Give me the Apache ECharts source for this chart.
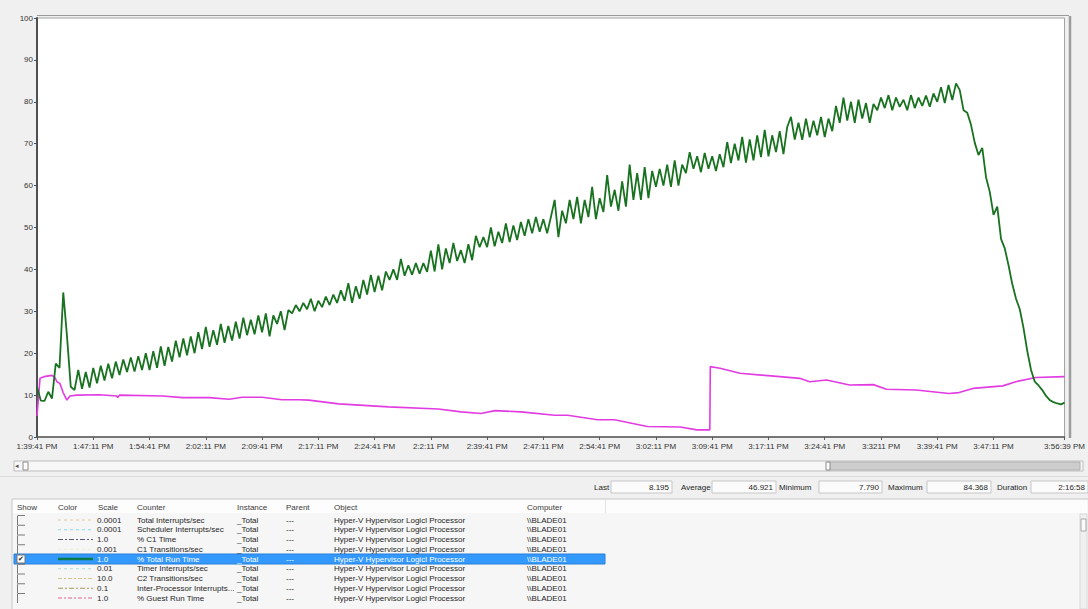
<!DOCTYPE html>
<html>
<head>
<meta charset="utf-8">
<title>Hyper-V Hypervisor Logical Processor - % Total Run Time</title>
<script src="https://cdn.jsdelivr.net/npm/echarts@6/dist/echarts.min.js"></script>
<style>
  html, body { margin: 0; padding: 0; background: #f0f0f0; }
  #chart { width: 1088px; height: 609px; }
</style>
</head>
<body>
<div id="chart"></div>
<script>
// one sample of % Total Run Time every 30 s, run length 2:16:58
const SAMPLE_STEP = 30
const DURATION = 8218

// % Total Run Time (green)
const totalRunTime = [
  12, 8.7, 8.6, 10.8, 9.2, 17.5, 16.5, 34.5, 24, 12,
  11.2, 16, 11.5, 15.5, 11.8, 16.5, 12.8, 17, 13.5, 17.5,
  14, 18, 14.8, 18.5, 15.5, 19, 15.6, 19.3, 16, 20,
  16, 20.5, 16.5, 21.6, 17, 21.5, 18, 23, 19, 23.5,
  19.5, 24, 20, 25, 21, 26.3, 21.5, 25.5, 22, 27,
  22.5, 26.5, 23, 27.5, 23.5, 28.5, 24.3, 28, 24.5, 29,
  25, 29.5, 24, 29, 27, 30, 25.5, 30.3, 29.5, 31.5,
  30, 32, 30.5, 33, 30, 32.5, 31, 33.5, 31.5, 34,
  32, 35, 32.5, 36.7, 32, 36, 33, 37.5, 34, 38.7,
  34.6, 38.5, 35, 39.5, 37.5, 40, 37.5, 42.5, 38.5, 41,
  38.7, 41.5, 39, 41.5, 39.4, 44.5, 39.5, 46, 40, 45,
  41.5, 46.3, 42, 44.6, 41.5, 46, 42.2, 48, 45.3, 47.7,
  45.3, 50, 45.5, 49, 46.3, 51, 46.5, 50.5, 47, 51.3,
  48, 52, 48.6, 52.5, 49, 52, 48.6, 52.5, 56.6, 47.7,
  54, 51, 56.6, 52, 57.3, 51, 56.6, 52.5, 59.7, 52,
  57, 53.7, 62.5, 55, 59, 54, 61, 55, 65, 56.6,
  63, 56.6, 64.4, 57, 63.5, 59.7, 64, 60, 65, 59.7,
  66, 60, 65, 63, 68, 64, 67, 63.2, 67.8, 64,
  67, 63.5, 67.5, 64.4, 70.4, 65.4, 70, 66, 71.6, 65.5,
  71, 66, 72, 66.8, 73.3, 67, 72, 68, 73, 67.5,
  74, 76.4, 71, 75, 70.9, 76, 71.5, 75.5, 72, 76.4,
  71.6, 76, 73, 79, 75, 81, 75.5, 80, 75, 80.5,
  76, 79.7, 75, 79.5, 78, 81, 78.5, 81.6, 78, 81,
  78.8, 80.5, 78, 81.6, 78.5, 81, 79, 81.5, 78.8, 82,
  80, 83.5, 79.7, 84, 80.4, 84.4, 82.8, 78, 77.4, 74.5,
  70.2, 67.3, 69, 62, 58.5, 53, 55, 47.3, 45, 41,
  36.5, 33, 30.5, 26, 20.5, 16, 13.2, 12.3, 11.2, 9.8,
  8.8, 8.3, 8, 7.8, 8.2
]

// % Guest Run Time (magenta): seconds from start, value
const guestRunSeconds = [
  0, 24, 56, 119, 143, 159, 183, 209, 239, 263,
  319, 502, 637, 645, 661, 1003, 1163, 1378, 1537, 1640,
  1800, 1959, 2094, 2174, 2413, 2811, 3209, 3392, 3552, 3663,
  3870, 4141, 4244, 4483, 4619, 4881, 5144, 5279, 5381, 5385,
  5463, 5622, 5941, 6100, 6179, 6315, 6498, 6689, 6793, 7031,
  7294, 7374, 7485, 7724, 7828, 7987, 8218
]
const guestRunTime = [
  5, 14, 14.4, 14.7, 14.2, 13.2, 12.8, 10.6, 8.8, 9.8,
  10, 10.1, 9.8, 9.4, 10, 9.8, 9.4, 9.4, 9, 9.5,
  9.5, 8.9, 8.9, 8.8, 7.9, 7.2, 6.7, 6.0, 5.6, 6.3,
  6, 5.2, 5.2, 4.1, 4.1, 2.5, 2.4, 1.7, 1.7, 16.8,
  16.4, 15.2, 14.4, 14, 13.2, 13.6, 12.4, 12.5, 11.4, 11.2,
  10.4, 10.6, 11.6, 12.2, 13.2, 14.2, 14.4
]

// time axis labels (as printed by perfmon)
const tickSeconds = [0, 450, 900, 1350, 1800, 2250, 2700, 3150, 3600, 4050,
  4500, 4950, 5400, 5850, 6300, 6750, 7200, 7650, 8218]
const tickLabels = ['1:39:41 PM', '1:47:11 PM', '1:54:41 PM', '2:02:11 PM', '2:09:41 PM',
  '2:17:11 PM', '2:24:41 PM', '2:2:11 PM', '2:39:41 PM', '2:47:11 PM', '2:54:41 PM',
  '3:02:11 PM', '3:09:41 PM', '3:17:11 PM', '3:24:41 PM', '3:3211 PM', '3:39:41 PM',
  '3:47:11 PM', '3:56:39 PM']

// statistics bar
const statNames = ['Last', 'Average', 'Minimum', 'Maximum', 'Duration']
const statValues = ['8.195', '46.921', '7.790', '84.368', '2:16:58']

// counter list
const tableHeaders = ['Show', 'Color', 'Scale', 'Counter', 'Instance', 'Parent', 'Object', 'Computer']
const counterScales = ['0.0001', '0.0001', '1.0', '0.001', '1.0', '0.01', '10.0', '0.1', '1.0']
const counterNames = ['Total Interrupts/sec', 'Scheduler Interrupts/sec', '% C1 Time', 'C1 Transitions/sec',
  '% Total Run Time', 'Timer Interrupts/sec', 'C2 Transitions/sec', 'Inter-Processor Interrupts...', '% Guest Run Time']
const counterShown = [false, false, false, false, true, false, false, false, false]
const INSTANCE = '_Total'
const PARENT = '---'
const OBJECT = 'Hyper-V Hypervisor Logicl Processor'
const COMPUTER = '\\\\BLADE01'

// swatch styles for the Color column
const swatchColors = ['#e9c79a', '#8fd8ee', '#5a5a78', '#ecebd8', '#0b7a46', '#a8e0dc', '#cfc68a', '#aa9a5c', '#e0668c']
const swatchDash = [[3, 3], [3, 3], [5, 2, 2, 2], [3, 3], null, [3, 3], [4, 2, 2, 2], [5, 2, 2, 2], [4, 2, 2, 2]]

const FONT = '8px "Liberation Sans", Arial, sans-serif'

const chart = echarts.init(document.getElementById('chart'), null, { renderer: 'svg' })

const graphics = []
function text(x, y, str, extra) {
  graphics.push({
    type: 'text', x: x, y: y, silent: true, z: 10,
    style: Object.assign({ text: str, font: FONT, fill: '#262626', textVerticalAlign: 'middle' }, extra || {})
  })
}
function rect(x, y, w, h, style, z) {
  graphics.push({ type: 'rect', silent: true, z: z || 5, shape: { x: x, y: y, width: w, height: h }, style: style })
}
function line(x1, y1, x2, y2, style, z) {
  graphics.push({ type: 'line', silent: true, z: z || 6, shape: { x1: x1, y1: y1, x2: x2, y2: y2 }, style: style })
}

// plot frame extras
line(37, 15.5, 1069, 15.5, { stroke: '#9a9a9a', lineWidth: 1 })
line(1070, 16, 1070, 438, { stroke: '#9c9c9c', lineWidth: 2.5 })

// timeline scroller
rect(14, 461, 1069, 10, { fill: '#f7f7f7', stroke: '#bdbdbd', lineWidth: 1 })
rect(827, 462, 253, 8, { fill: '#cdcdcd', stroke: '#b0b0b0', lineWidth: 1 })
rect(23, 462, 5, 8, { fill: '#fdfdfd', stroke: '#8a8a8a', lineWidth: 1 }, 7)
rect(826, 462, 4, 8, { fill: '#fdfdfd', stroke: '#8a8a8a', lineWidth: 1 }, 7)
text(15, 466, '\u25C2', { fill: '#555', font: '7px "DejaVu Sans"' })
line(0, 476.5, 1088, 476.5, { stroke: '#dcdcdc', lineWidth: 1 })

// statistics row
const statLabelX = [594, 681, 779, 888, 997]
const statBoxX = [611, 712, 819, 927, 1031]
const statBoxW = [61, 64, 63, 64, 57]
statNames.forEach((name, i) => {
  text(statLabelX[i], 487, name)
  rect(statBoxX[i], 481, statBoxW[i], 12, { fill: '#fbfbfb', stroke: '#c6c6c6', lineWidth: 1 })
  text(statBoxX[i] + statBoxW[i] - 3, 487, statValues[i], { textAlign: 'right' })
})

// counter table
rect(12, 499, 1080, 112, { fill: '#f6f6f6', stroke: '#c9c9c9', lineWidth: 1 }, 4)
rect(13, 500, 1074, 13, { fill: '#fdfdfd' }, 4)
line(605.5, 500, 605.5, 513, { stroke: '#e2e2e2', lineWidth: 1 })
const colX = [17, 58, 98, 137, 237, 286, 334, 527]
tableHeaders.forEach((h, i) => text(colX[i], 507, h, { fill: '#3c3c3c' }))
rect(1080, 514, 7, 95, { fill: '#f0f0f0', stroke: '#d8d8d8', lineWidth: 1 })
rect(1081, 519, 5, 12, { fill: '#fafafa', stroke: '#a8a8a8', lineWidth: 1 })

counterNames.forEach((name, i) => {
  const y = 520 + i * 9.75
  const selected = counterShown[i]
  const fg = selected ? '#ffffff' : '#262626'
  if (selected) {
    rect(14, y - 5, 591, 10, { fill: '#3399ff', stroke: '#2b7fd6', lineWidth: 1 }, 5)
    rect(17, y - 4, 8, 8, { fill: '#ffffff', stroke: '#777', lineWidth: 1 }, 7)
    text(18, y, '\u2714', { fill: '#222', font: '7px "DejaVu Sans"' })
  } else {
    line(17.5, y - 4, 17.5, y + 5, { stroke: '#7a7a7a', lineWidth: 1 })
    line(17.5, y - 4.5, 25, y - 4.5, { stroke: '#7a7a7a', lineWidth: 1 })
  }
  line(58, y, 93, y, {
    stroke: swatchColors[i],
    lineWidth: selected ? 2.5 : 1.2,
    lineDash: swatchDash[i] || null
  }, 7)
  text(colX[2] - 1, y, counterScales[i], { fill: fg })
  text(colX[3], y, name, { fill: fg })
  text(colX[4], y, INSTANCE, { fill: fg })
  text(colX[5], y, PARENT, { fill: fg })
  text(colX[6], y, OBJECT, { fill: fg })
  text(colX[7], y, COMPUTER, { fill: fg })
})

const option = {
  backgroundColor: '#f0f0f0',
  animation: false,
  textStyle: { fontFamily: '"Liberation Sans", Arial, sans-serif' },
  grid: {
    left: 37,
    right: 19,
    top: 18,
    bottom: 172,
    show: true,
    backgroundColor: '#ffffff',
    borderColor: '#a0a0a0',
    borderWidth: 1
  },
  xAxis: {
    type: 'value',
    min: 0,
    max: DURATION,
    axisLine: { show: true, lineStyle: { color: '#5a5a5a', width: 1.5 } },
    axisTick: {
      show: true,
      length: 3,
      customValues: tickSeconds,
      lineStyle: { color: '#5a5a5a' }
    },
    axisLabel: {
      customValues: tickSeconds,
      formatter: function (v) {
        const idx = tickSeconds.indexOf(v)
        return idx >= 0 ? tickLabels[idx] : ''
      },
      color: '#333',
      fontSize: 8,
      margin: 5,
      hideOverlap: false
    },
    splitLine: { show: false }
  },
  yAxis: {
    type: 'value',
    min: 0,
    max: 100,
    interval: 10,
    axisLine: { show: true, lineStyle: { color: '#505050', width: 2 } },
    axisTick: { show: true, length: 3, lineStyle: { color: '#505050' } },
    axisLabel: { color: '#333', fontSize: 8, margin: 4 },
    splitLine: { show: false }
  },
  series: [
    {
      name: '% Guest Run Time',
      type: 'line',
      showSymbol: false,
      z: 2,
      data: guestRunSeconds.map((t, i) => [t, guestRunTime[i]]),
      lineStyle: { color: '#e23be2', width: 1.6 }
    },
    {
      name: '% Total Run Time',
      type: 'line',
      showSymbol: false,
      z: 3,
      data: totalRunTime.map((v, i) => [Math.min(i * SAMPLE_STEP, DURATION), v]),
      lineStyle: { color: '#18721f', width: 1.8 }
    }
  ],
  graphic: graphics
}

chart.setOption(option)
</script>
</body>
</html>
